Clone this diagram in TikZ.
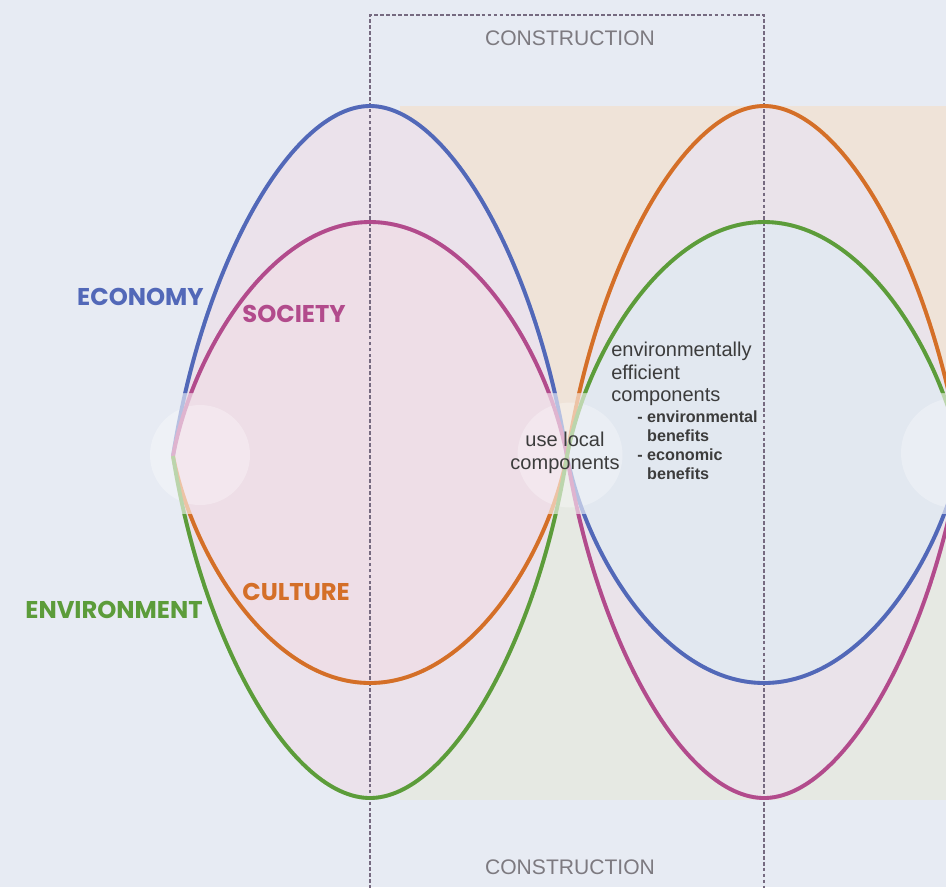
\documentclass[tikz,border=0pt]{standalone}
\usepackage{fontspec}
\setmainfont{Liberation Sans}
\newfontfamily\labelfont{Poppins}

\definecolor{paper}{HTML}{E7EBF3}
\definecolor{peach}{HTML}{EFE3D8}
\definecolor{sage}{HTML}{E6E9E3}
\definecolor{pinkfill}{HTML}{EBE2EB}
\definecolor{rosefill}{HTML}{EEDEE7}
\definecolor{lilacfill}{HTML}{EAE3EA}
\definecolor{skyfill}{HTML}{E2E8F0}
\definecolor{ecoblue}{HTML}{5268B8}
\definecolor{socmag}{HTML}{B24B8C}
\definecolor{culorange}{HTML}{D46F28}
\definecolor{envgreen}{HTML}{5C9C3A}
\definecolor{framegray}{HTML}{766A80}
\definecolor{stagegray}{HTML}{7D7A80}
\definecolor{notegray}{HTML}{3C3C3C}

\tikzset{
  wave/.style={line width=2.2pt},
  frame/.style={draw=framegray, line width=0.8pt, dash pattern=on 2.2pt off 1.2pt},
  haze/.style={fill=white, opacity=0.3},
  dim/.style={inner sep=0pt, font=\labelfont\bfseries\fontsize{13.8}{14}\selectfont},
  stage/.style={inner sep=0pt, text=stagegray, font=\fontsize{12}{12}\selectfont},
  note/.style={inner sep=0pt, text=notegray, font=\fontsize{11.4}{12.8}\selectfont},
  subnote/.style={inner sep=0pt, text=notegray, font=\bfseries\fontsize{9.2}{10.8}\selectfont}
}

% half waves: crossing -> apex (x,y) -> next crossing, #1 = direction
\newcommand{\tallhump}[3]{.. controls +({#1*30},{0.55*(#3-456)}) and +({-(#1)*78},0) .. (#2,#3) .. controls +({(#1)*78},0) and +({-(#1)*30},{0.55*(#3-456)})}
\newcommand{\lowhump}[3]{.. controls +({#1*20},{0.45*(#3-456)}) and +({-(#1)*98},0) .. (#2,#3) .. controls +({(#1)*98},0) and +({-(#1)*20},{0.45*(#3-456)})}

\begin{document}
\begin{tikzpicture}[x=0.02cm, y=-0.02cm]
  \clip (0,0) rectangle (946,887);
  \fill[paper] (0,0) rectangle (946,887);
  \fill[peach] (400,106) rectangle (946,456);
  \fill[sage] (400,456) rectangle (946,800);

  \coordinate (L) at (173,456);
  \coordinate (C) at (567,456);
  \coordinate (R) at (961,456);

  % lobes
  \fill[pinkfill] (L) \tallhump{1}{370}{106} .. (C) \tallhump{-1}{370}{798} .. (L) -- cycle;
  \fill[rosefill] (L) \lowhump{1}{370}{222} .. (C) \lowhump{-1}{370}{683} .. (L) -- cycle;
  \fill[lilacfill] (C) \tallhump{1}{764}{106} .. (R) \tallhump{-1}{764}{798} .. (C) -- cycle;
  \fill[skyfill] (C) \lowhump{1}{764}{222} .. (R) \lowhump{-1}{764}{683} .. (C) -- cycle;

  \fill[haze] (200,455) circle (1cm);
  \fill[haze] (570,455) circle (1.05cm);
  \fill[haze] (956,453) circle (1.1cm);

  % construction frame
  \draw[frame] (370,895) -- (370,15) -- (764,15) -- (764,895);

  % the four waves, pale near the crossings
  \draw[wave, ecoblue!42] (L) \tallhump{1}{370}{106} .. (C) \lowhump{1}{764}{683} .. (R);
  \draw[wave, socmag!42] (L) \lowhump{1}{370}{222} .. (C) \tallhump{1}{764}{798} .. (R);
  \draw[wave, culorange!42] (L) \lowhump{1}{370}{683} .. (C) \tallhump{1}{764}{106} .. (R);
  \draw[wave, envgreen!42] (L) \tallhump{1}{370}{798} .. (C) \lowhump{1}{764}{222} .. (R);
  \begin{scope}
    \clip (0,0) rectangle (946,393) (0,514) rectangle (946,887);
    \draw[wave, ecoblue] (L) \tallhump{1}{370}{106} .. (C) \lowhump{1}{764}{683} .. (R);
    \draw[wave, socmag] (L) \lowhump{1}{370}{222} .. (C) \tallhump{1}{764}{798} .. (R);
    \draw[wave, culorange] (L) \lowhump{1}{370}{683} .. (C) \tallhump{1}{764}{106} .. (R);
    \draw[wave, envgreen] (L) \tallhump{1}{370}{798} .. (C) \lowhump{1}{764}{222} .. (R);
  \end{scope}

  \node[dim, ecoblue, anchor=east] (economy) at (204,297) {ECONOMY};
  \node[dim, socmag, anchor=west] (society) at (242,314) {SOCIETY};
  \node[dim, culorange, anchor=west] (culture) at (242,592) {CULTURE};
  \node[dim, envgreen, anchor=east] (environment) at (203,610) {ENVIRONMENT};

  \node[stage] (topstage) at (570,38) {CONSTRUCTION};
  \node[stage] (botstage) at (570,867) {CONSTRUCTION};

  \node[note, align=center] (local) at (565,453) {use local\\components};
  \node[note, align=left, anchor=north west] (efficient) at (611,342) {environmentally\\efficient\\components};
  \node[subnote, align=left, anchor=north west] (benefits) at (637,410) {- environmental\\\phantom{- }benefits\\- economic\\\phantom{- }benefits};
\end{tikzpicture}
\end{document}
